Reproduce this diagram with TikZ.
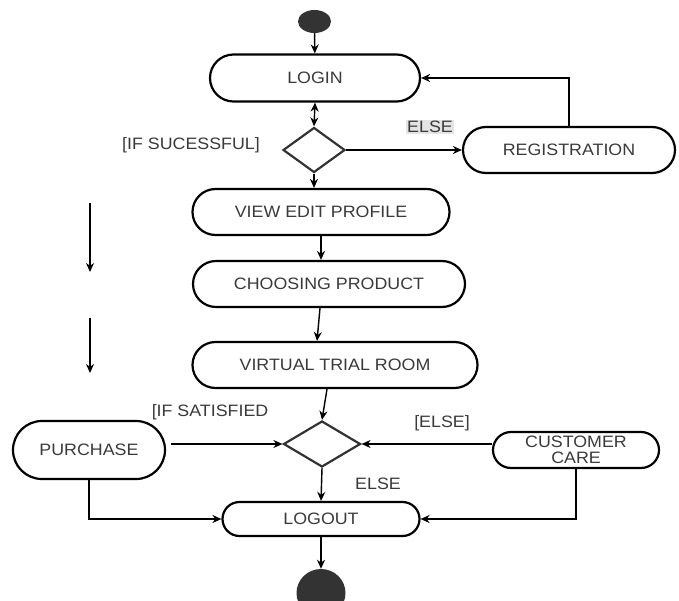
\documentclass[tikz,border=0pt]{standalone}
\usepackage{fontspec}
\setmainfont[FakeStretch=1.08]{Liberation Sans}
\usepackage{tikz}
\usetikzlibrary{arrows.meta,shapes.geometric,shapes.misc,calc}
\definecolor{ink}{HTML}{3A3A3A}
\definecolor{dot}{HTML}{333333}
\definecolor{shade}{HTML}{E4E4E4}
\tikzset{action/.style={draw,rounded rectangle,line width=2.2pt,text=ink,inner sep=0pt,align=center}}
\tikzset{choice/.style={draw=dot,diamond,line width=2.2pt,inner sep=0pt}}
\tikzset{blob/.style={fill=dot,ellipse,inner sep=0pt}}
\tikzset{guard/.style={text=ink,inner sep=1pt}}
\tikzset{flow/.style={line width=1.4pt,-{Stealth[length=9pt,width=8pt]}}}

\begin{document}
\begin{tikzpicture}[x=1pt,y=-1pt,font=\fontsize{16.5}{16}\selectfont]
    \useasboundingbox (0,0) rectangle (679,601);
    \node [blob,minimum width=33,minimum height=23] (start) at (314.5,21.5) {};
    \node [action,minimum width=210,minimum height=47] (login) at (315,78) {LOGIN};
    \node [choice,minimum width=62,minimum height=45] (ok) at (314,150) {};
    \node [action,minimum width=212,minimum height=46] (reg) at (569,150) {REGISTRATION};
    \node [action,minimum width=257,minimum height=46] (profile) at (321,212) {VIEW EDIT PROFILE};
    \node [action,minimum width=272,minimum height=46] (choose) at (329,284) {CHOOSING PRODUCT};
    \node [action,minimum width=285,minimum height=46] (trial) at (335,365) {VIRTUAL TRIAL ROOM};
    \node [choice,minimum width=77,minimum height=46] (happy) at (322,444) {};
    \node [action,minimum width=152,minimum height=58] (buy) at (89,450) {PURCHASE};
    \node [action,minimum width=166,minimum height=36] (care) at (576,450) {CUSTOMER\\CARE};
    \node [action,minimum width=197,minimum height=34] (logout) at (321,519) {LOGOUT};
    \node [blob,minimum width=49,minimum height=48] (stop) at (321,593) {};
    \node [guard] (ifok) at (191,145) {[IF SUCESSFUL]};
    \node [guard,fill=shade] (else1) at (430,127) {ELSE};
    \node [guard] (ifsat) at (210,412) {[IF SATISFIED};
    \node [guard] (else2) at (442,423) {[ELSE]};
    \node [guard] (else3) at (378,484) {ELSE};
    \coordinate (a1) at (90,203);
    \coordinate (a2) at (90,272);
    \coordinate (b1) at (90,318);
    \coordinate (b2) at (90,373);
    \draw [flow] (start) -- (login);
    \draw [flow,{Stealth[length=9pt,width=8pt]}-{Stealth[length=9pt,width=8pt]}] (login.south) -- (ok.north);
    \draw [flow] (ok.east) -- (reg.west);
    \draw [flow] (reg.north) |- (login.east);
    \draw [flow] (ok.south) -- (ok.south |- profile.north);
    \draw [flow] (profile.south) -- (profile.south |- choose.north);
    \draw [flow] ([xshift=-9]choose.south) -- ([xshift=-18]trial.north);
    \draw [flow] ([xshift=-8]trial.south) -- (happy.north);
    \draw [flow] ([xshift=5]buy.east |- happy.west) -- (happy.west);
    \draw [flow] (care.west |- happy.east) -- (happy.east);
    \draw [flow] (happy.south) -- (logout.north);
    \draw [flow] (buy.south) |- (logout.west);
    \draw [flow] (care.south) |- (logout.east);
    \draw [flow] (logout.south) -- (stop.north);
    \draw [flow] (a1) -- (a2);
    \draw [flow] (b1) -- (b2);
\end{tikzpicture}
\end{document}
